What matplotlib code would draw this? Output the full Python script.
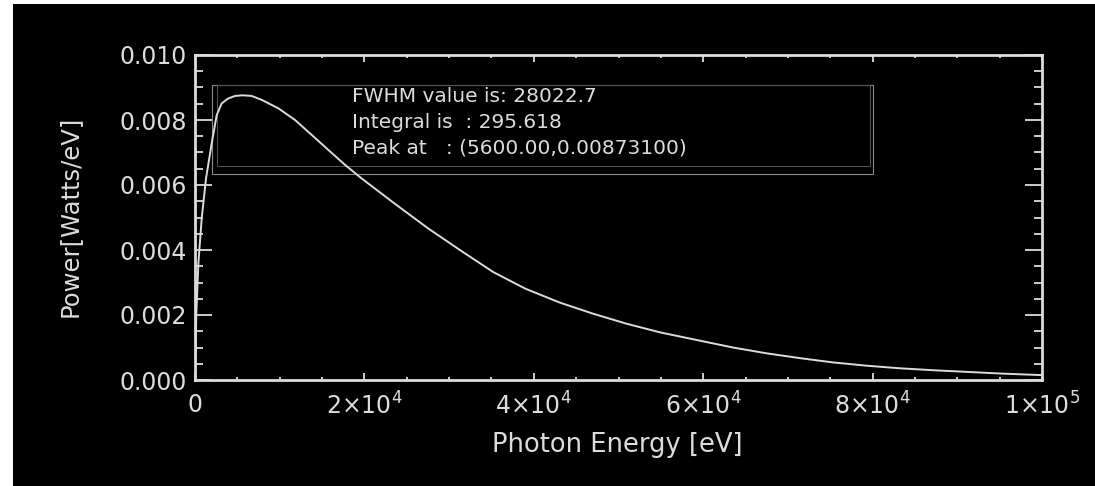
import numpy as np
import matplotlib
matplotlib.use("Agg")
import matplotlib.pyplot as plt
from matplotlib.patches import Rectangle
from matplotlib.ticker import MultipleLocator, FixedLocator

# spectrum
energy = [0, 150, 400, 800, 1300, 1970, 2560, 3150, 3900, 4720, 5600, 6690,
          7870, 9840, 11810, 13780, 15740, 17710, 19680, 23610, 27550,
          31500, 35220, 39000, 43090, 47000, 50970, 55000, 59620, 63500,
          67500, 71500, 75360, 79300, 83230, 87200, 91110, 95000, 99000,
          100000]
power = [0.0, 0.0020, 0.0036, 0.0050, 0.0062, 0.00728, 0.00815, 0.00851,
         0.00866, 0.00874, 0.00876, 0.00874, 0.00862, 0.00836, 0.0080,
         0.00754, 0.00708, 0.00662, 0.0062, 0.00542, 0.00466, 0.00396,
         0.00332, 0.00281, 0.00238, 0.00204, 0.00173, 0.00146, 0.00121,
         0.00100, 0.00082, 0.00067, 0.00054, 0.00044, 0.00036, 0.00030,
         0.00025, 0.00020, 0.00016, 0.00015]

xticks = [0, 20000, 40000, 60000, 80000, 100000]
xticklabels = ['0', r'$2{\times}10^{4}$', r'$4{\times}10^{4}$',
               r'$6{\times}10^{4}$', r'$8{\times}10^{4}$', r'$1{\times}10^{5}$']
yticks = [0.0, 0.002, 0.004, 0.006, 0.008, 0.010]
yticklabels = ['0.000', '0.002', '0.004', '0.006', '0.008', '0.010']
info = ['FWHM value is: 28022.7',
        'Integral is  : 295.618',
        'Peak at   : (5600.00,0.00873100)']

fg = '#dcdcdc'
plt.rcParams['font.family'] = ['DejaVu Sans']
plt.rcParams['mathtext.fontset'] = 'dejavusans'

fig = plt.figure(figsize=(10.95, 4.86), dpi=100, facecolor='white')
fig.patches.append(Rectangle((13 / 1095, 0), 1, 482 / 486, transform=fig.transFigure,
                             facecolor='black', edgecolor='none', zorder=-10))

ax = fig.add_axes([195 / 1095, 106 / 486, 847 / 1095, 325 / 486])
ax.set_facecolor('black')
ax.plot(energy, power, color=fg, lw=1.4)

ax.set_xlim(0, 100000)
ax.set_ylim(0, 0.010)
ax.xaxis.set_major_locator(FixedLocator(xticks))
ax.set_xticklabels(xticklabels)
ax.xaxis.set_minor_locator(MultipleLocator(5000))
ax.yaxis.set_major_locator(FixedLocator(yticks))
ax.set_yticklabels(yticklabels)
ax.yaxis.set_minor_locator(MultipleLocator(0.0005))

ax.tick_params(which='both', direction='in', colors=fg, top=True, right=True,
               labelsize=17, width=1.3)
ax.tick_params(axis='x', which='major', length=4.7, pad=9)
ax.tick_params(axis='x', which='minor', length=2.4)
ax.tick_params(axis='y', which='major', length=12, pad=6)
ax.tick_params(axis='y', which='minor', length=6)
for s in ax.spines.values():
    s.set_color(fg)
    s.set_linewidth(2)

ax.text(0.499, -0.2, 'Photon Energy [eV]', transform=ax.transAxes, color=fg,
        fontsize=18.5, ha='center', va='center')
ax.text(-0.148, 0.505, 'Power[Watts/eV]', transform=ax.transAxes, color=fg,
        fontsize=17.5, ha='center', va='center', rotation=90)

ax.add_patch(Rectangle((0.020, 0.634), 0.780, 0.274, transform=ax.transAxes,
                       fill=False, edgecolor='#8a8a8a', lw=0.8))
ax.add_patch(Rectangle((0.026, 0.658), 0.771, 0.25, transform=ax.transAxes,
                       fill=False, edgecolor='#555555', lw=0.7))
for i, line in enumerate(info):
    ax.text(0.185, 0.871 - i * 0.079, line, transform=ax.transAxes, color=fg,
            fontsize=14.5, va='center', ha='left')

fig.savefig('out.png', dpi=100, facecolor=fig.get_facecolor())
